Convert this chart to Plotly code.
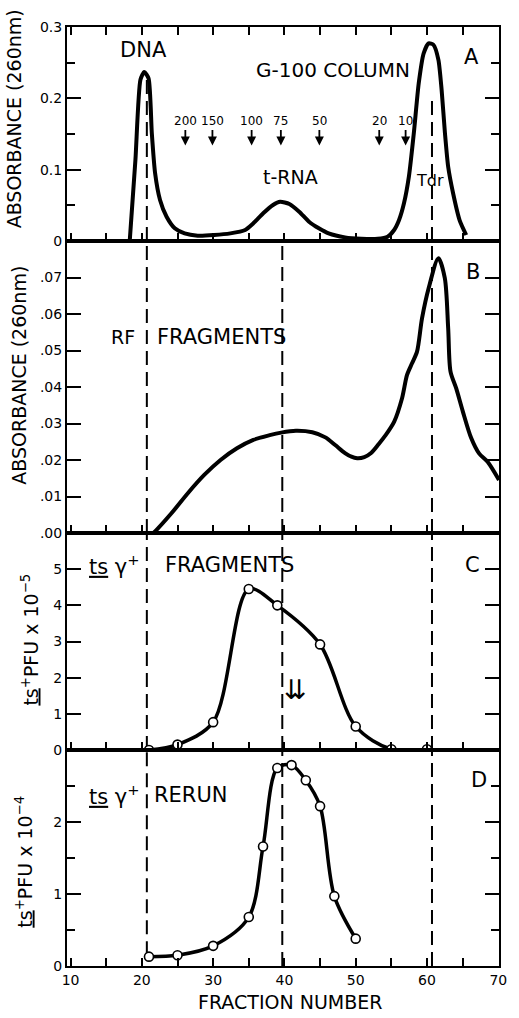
import plotly.graph_objects as go
from plotly.subplots import make_subplots

# ---------------- data ----------------
# Panel A: G-100 column absorbance (260 nm)
a_fraction = [18.3, 19.1, 19.8, 20.34, 20.94, 21.4, 21.86, 22.55, 23.47, 24.62, 26.0, 27.83,
              30.13, 32.42, 34.49, 35.64, 37.02, 38.4, 39.4, 40.69, 42.07, 43.45, 44.83,
              46.2, 48.5, 50.8, 53.09, 54.47, 55.39, 56.08, 56.77, 57.46, 58.15, 58.84,
              59.53, 60.22, 60.91, 61.6, 62.05, 62.52, 62.97, 63.66, 64.58, 65.5]
a_absorbance = [0.0, 0.114, 0.226, 0.237, 0.228, 0.151, 0.095, 0.0575, 0.034, 0.0178, 0.0107,
                0.0075, 0.0084, 0.0107, 0.0154, 0.0248, 0.0388, 0.0505, 0.0551, 0.0519, 0.0411,
                0.0271, 0.0178, 0.0107, 0.0051, 0.0033, 0.0033, 0.0061, 0.0154, 0.0294, 0.0528,
                0.0902, 0.151, 0.221, 0.263, 0.277, 0.275, 0.254, 0.212, 0.151, 0.104, 0.067,
                0.029, 0.0084]

# Panel B: RF fragments absorbance (260 nm)
b_fraction = [21.0, 21.63, 24.15, 26.45, 28.75, 31.04, 33.34, 35.64, 37.93, 39.54, 41.61,
              43.91, 45.75, 47.12, 48.5, 49.4, 50.2, 51.2, 52.2, 53.2, 54.2, 55.4, 56.5,
              57.2, 57.9, 58.6, 59.3, 60.22, 61.6, 62.5, 62.97, 63.3, 64.1, 65.04, 66.2,
              67.3, 68.5, 70.1]
b_absorbance = [-0.001, 0.0, 0.0054, 0.0109, 0.0159, 0.0200, 0.0232, 0.0255, 0.0268, 0.0275,
                0.0280, 0.0276, 0.0262, 0.0241, 0.0219, 0.0209, 0.0205, 0.0208, 0.0220,
                0.0243, 0.0268, 0.0305, 0.0369, 0.0433, 0.0465, 0.0497, 0.0588, 0.0670,
                0.0753, 0.0698, 0.0561, 0.0442, 0.0396, 0.0332, 0.0260, 0.0218, 0.0195,
                0.0145]

# Panel C: ts gamma+ fragments, ts+ PFU x 10^-5
c_fraction = [21, 25, 30, 35, 39, 45, 50, 55, 60]
c_pfu = [0.0, 0.15, 0.77, 4.45, 4.0, 2.92, 0.65, 0.02, 0.02]

# Panel D: ts gamma+ rerun, ts+ PFU x 10^-4
d_fraction = [21, 25, 30, 35, 37, 39, 41, 43, 45, 47, 50]
d_pfu = [0.13, 0.15, 0.28, 0.68, 1.66, 2.75, 2.79, 2.58, 2.22, 0.97, 0.38]

# molecular-size markers (arrows) in panel A
size_labels = ["200", "150", "100", "75", "50", "20", "10"]
size_fraction = [26.1, 29.9, 35.4, 39.5, 44.9, 53.3, 57.0]

# reference fractions (dashed lines): DNA, tRNA, Tdr
ref_fraction = [20.7, 39.7, 60.7]

# axis tick labels
a_ticks = [0, 0.1, 0.2, 0.3]
a_ticktext = ["0", "0.1", "0.2", "0.3"]
b_ticks = [0, 0.01, 0.02, 0.03, 0.04, 0.05, 0.06, 0.07]
b_ticktext = [".00", ".01", ".02", ".03", ".04", ".05", ".06", ".07"]
c_ticks = [0, 1, 2, 3, 4, 5]
d_ticks = [0, 1, 2]

# ---------------- figure ----------------
W, H = 519, 1018
ML, MR, MT, MB = 67, 13, 27, 52
PW = W - ML - MR
PH = H - MT - MB

FONT = "DejaVu Sans"

fig = make_subplots(rows=4, cols=1, shared_xaxes=True, vertical_spacing=0,
                    row_heights=[214, 292, 217, 216])

fig.add_trace(go.Scatter(x=a_fraction, y=a_absorbance, mode="lines",
                         line=dict(color="black", width=4, shape="spline", smoothing=0.6),
                         showlegend=False), row=1, col=1)
fig.add_trace(go.Scatter(x=b_fraction, y=b_absorbance, mode="lines",
                         line=dict(color="black", width=4, shape="spline", smoothing=0.8),
                         showlegend=False), row=2, col=1)
for r, xs, ys in [(3, c_fraction, c_pfu), (4, d_fraction, d_pfu)]:
    fig.add_trace(go.Scatter(x=xs, y=ys, mode="lines+markers",
                             line=dict(color="black", width=3.5, shape="spline", smoothing=0.9),
                             marker=dict(symbol="circle", size=9, color="white",
                                         line=dict(color="black", width=1.6)),
                             showlegend=False), row=r, col=1)

# dashed reference lines, per panel (y extents)
dash_extent = {
    1: [(0, 0.235), None, (0, 0.20)],
    2: [(0, 0.08), (0, 0.08), (0, 0.08)],
    3: [(0, 6), (0, 6), (0, 6)],
    4: [(0.15, 3), (0, 3), (0, 3)],
}
for r, exts in dash_extent.items():
    xr = "x" if r == 1 else f"x{r}"
    yr = "y" if r == 1 else f"y{r}"
    for xv, ext in zip(ref_fraction, exts):
        if ext is None:
            continue
        fig.add_shape(type="line", x0=xv, x1=xv, y0=ext[0], y1=ext[1], xref=xr, yref=yr,
                      line=dict(color="black", width=2, dash="14px,7px"), layer="below")

# axes
for r in range(1, 5):
    fig.update_xaxes(range=[9.5, 70.1], showline=True, linewidth=2, linecolor="black",
                     mirror="ticks" if r == 1 else True,
                     ticks="inside", tick0=10, dtick=10, ticklen=8, tickwidth=1.8,
                     tickcolor="black",
                     minor=dict(ticks="inside", tick0=5, dtick=10, ticklen=8, tickwidth=1.8,
                                tickcolor="black"),
                     showgrid=False, zeroline=False,
                     showticklabels=(r == 4),
                     tickfont=dict(family=FONT, size=14, color="black"),
                     row=r, col=1)

yaxis_common = dict(showline=True, linewidth=2, linecolor="black", mirror="ticks",
                    ticks="inside", ticklen=14, tickwidth=1.8, tickcolor="black",
                    showgrid=False, zeroline=False,
                    tickfont=dict(family=FONT, size=14, color="black"))
fig.update_yaxes(range=[0, 0.3], tickvals=a_ticks, ticktext=a_ticktext,
                 minor=dict(ticks="inside", tickvals=[0.05, 0.15, 0.25], ticklen=8,
                            tickwidth=1.8, tickcolor="black"),
                 row=1, col=1, **yaxis_common)
fig.update_yaxes(range=[0, 0.08], tickvals=b_ticks, ticktext=b_ticktext,
                 row=2, col=1, **yaxis_common)
fig.update_yaxes(range=[0, 6], tickvals=c_ticks, ticktext=[str(v) for v in c_ticks],
                 row=3, col=1, **yaxis_common)
fig.update_yaxes(range=[0, 3], tickvals=d_ticks, ticktext=[str(v) for v in d_ticks],
                 minor=dict(ticks="inside", tickvals=[0.5, 1.5, 2.5], ticklen=8,
                            tickwidth=1.8, tickcolor="black"),
                 row=4, col=1, **yaxis_common)


def txt(text, x, y, row, size, xanchor="center"):
    xr = "x" if row == 1 else f"x{row}"
    yr = "y" if row == 1 else f"y{row}"
    fig.add_annotation(text=text, x=x, y=y, xref=xr, yref=yr, showarrow=False,
                       xanchor=xanchor, yanchor="middle",
                       font=dict(family=FONT, size=size, color="black"))


# panel A texts
txt("DNA", 20.25, 0.268, 1, 21)
txt("G-100 COLUMN", 46.8, 0.240, 1, 20)
txt("A", 66.3, 0.258, 1, 21)
txt("t-RNA", 40.9, 0.090, 1, 19)
txt("Tdr", 60.45, 0.0855, 1, 16)
for lab, sx in zip(size_labels, size_fraction):
    # label sits above the arrow; arrow drawn from label to its tip
    fig.add_annotation(x=sx, y=0.134, xref="x", yref="y", ax=0, ay=-24, text=lab,
                       showarrow=True, arrowhead=2, arrowsize=1, arrowwidth=1.8,
                       arrowcolor="black", standoff=0, startstandoff=0,
                       font=dict(family=FONT, size=12, color="black"))

# panel B texts
txt("RF", 19.3, 0.0538, 2, 19, xanchor="right")
txt("FRAGMENTS", 21.9, 0.0538, 2, 21, xanchor="left")
txt("B", 66.4, 0.0716, 2, 21)

# panel C texts
txt("<u>ts</u> γ<sup>+</sup>", 20.0, 5.11, 3, 21, xanchor="right")
txt("FRAGMENTS", 23.0, 5.11, 3, 21, xanchor="left")
txt("C", 66.4, 5.11, 3, 21)
txt("⇊", 41.6, 1.66, 3, 27)

# panel D texts
txt("<u>ts</u> γ<sup>+</sup>", 20.0, 2.38, 4, 21, xanchor="right")
txt("RERUN", 21.4, 2.38, 4, 21, xanchor="left")
txt("D", 67.3, 2.58, 4, 21)


def px2paper(px, py):
    return (px - ML) / PW, (H - MB - py) / PH


def title(text, px, py, size, angle=-90):
    x, y = px2paper(px, py)
    fig.add_annotation(text=text, x=x, y=y, xref="paper", yref="paper", showarrow=False,
                       textangle=angle, xanchor="center", yanchor="middle",
                       font=dict(family=FONT, size=size, color="black"))


title("ABSORBANCE (260nm)", 13.5, 119, 19)
title("ABSORBANCE (260nm)", 18, 375, 19)
title("<u>ts</u><sup>+</sup>PFU x 10<sup>−5</sup>", 29, 640, 19)
title("<u>ts</u><sup>+</sup>PFU x 10<sup>−4</sup>", 23, 862, 19)
title("FRACTION NUMBER", 294, 1002, 19, angle=0)

fig.update_layout(width=W, height=H, margin=dict(l=ML, r=MR, t=MT, b=MB),
                  paper_bgcolor="white", plot_bgcolor="white",
                  font=dict(family=FONT, color="black"))

fig.write_html("out.html")
